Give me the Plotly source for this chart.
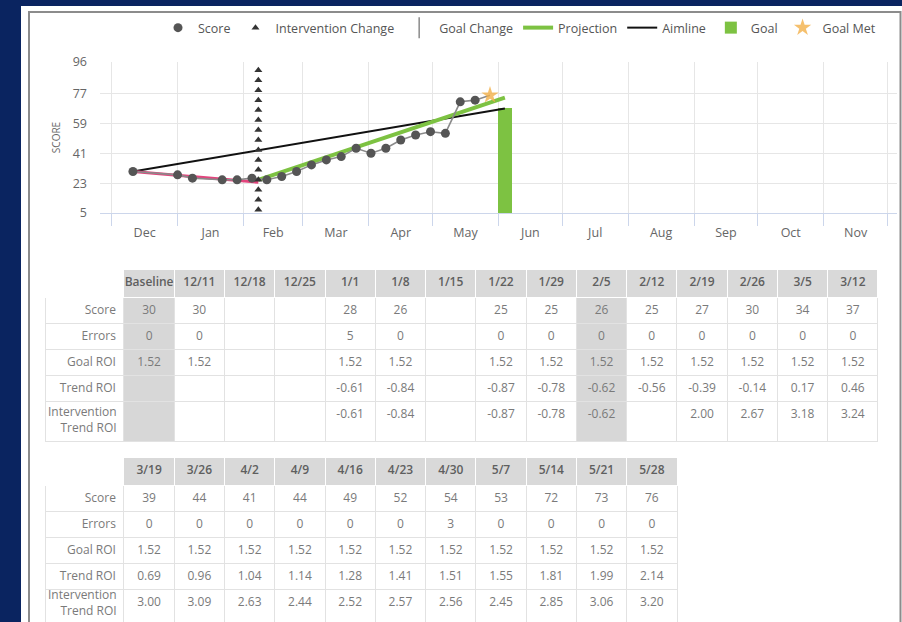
import numpy as np
import pandas as pd
import plotly.graph_objects as go

# ---------------- data ----------------
weeks_1 = ["Baseline", "12/11", "12/18", "12/25", "1/1", "1/8", "1/15", "1/22",
           "1/29", "2/5", "2/12", "2/19", "2/26", "3/5", "3/12"]
score_1 = [30, 30, None, None, 28, 26, None, 25, 25, 26, 25, 27, 30, 34, 37]
errors_1 = [0, 0, None, None, 5, 0, None, 0, 0, 0, 0, 0, 0, 0, 0]
goal_roi_1 = [1.52, 1.52, None, None, 1.52, 1.52, None, 1.52, 1.52, 1.52,
              1.52, 1.52, 1.52, 1.52, 1.52]
trend_roi_1 = [None, None, None, None, -0.61, -0.84, None, -0.87, -0.78, -0.62,
               -0.56, -0.39, -0.14, 0.17, 0.46]
interv_roi_1 = [None, None, None, None, -0.61, -0.84, None, -0.87, -0.78, -0.62,
                None, 2.00, 2.67, 3.18, 3.24]

weeks_2 = ["3/19", "3/26", "4/2", "4/9", "4/16", "4/23", "4/30", "5/7", "5/14",
           "5/21", "5/28"]
score_2 = [39, 44, 41, 44, 49, 52, 54, 53, 72, 73, 76]
errors_2 = [0, 0, 0, 0, 0, 0, 3, 0, 0, 0, 0]
goal_roi_2 = [1.52] * 11
trend_roi_2 = [0.69, 0.96, 1.04, 1.14, 1.28, 1.41, 1.51, 1.55, 1.81, 1.99, 2.14]
interv_roi_2 = [3.00, 3.09, 2.63, 2.44, 2.52, 2.57, 2.56, 2.45, 2.85, 3.06, 3.20]

row_labels = ["Score", "Errors", "Goal ROI", "Trend ROI", "Intervention<br>Trend ROI"]
shaded_weeks = ["Baseline", "2/5"]

# weekly probe dates (12/11 .. 5/28); Baseline shares the 12/11 date
week_dates = pd.date_range("2017-12-11", "2018-05-28", freq="7D")
chart_scores = score_1[1:] + score_2

intervention_date = "2018-02-08"
baseline_trend_dates = ["2017-12-11", "2018-02-08"]
baseline_trend = [30, 23.5]
projection_dates = ["2018-02-08", "2018-06-04"]
projection = [25.0, 74.5]
goal_date = "2018-06-04"
goal_score = 68
goal_met_date = "2018-05-28"

y_ticks = [5, 23, 41, 59, 77, 96]
y_min, y_max = 5, 96

# ---------------- styling ----------------
NAVY = "#0a2460"
FONT = "Open Sans"
GREEN = "#7dc242"
PINK = "#e2457d"
GRID = "#e6e6e6"
AXIS = "#ccd6eb"
W, H = 902, 622


def px(x):
    return x / W


def py(y):
    return 1 - y / H


fig = go.Figure()

# goal bar
fig.add_trace(go.Bar(
    x=[goal_date], y=[goal_score - y_min], base=y_min,
    width=6.5 * 86400000, marker=dict(color=GREEN, line=dict(width=0)),
    name="Goal", legendrank=6, hoverinfo="skip"))

# aimline: baseline score to the goal
fig.add_trace(go.Scatter(
    x=[week_dates[0], goal_date], y=[score_1[0], goal_score], mode="lines",
    line=dict(color="#111111", width=2), name="Aimline", legendrank=5))

# projection for the intervention phase
fig.add_trace(go.Scatter(
    x=projection_dates, y=projection, mode="lines",
    line=dict(color=GREEN, width=4), name="Projection", legendrank=4))

# baseline-phase trend
fig.add_trace(go.Scatter(
    x=baseline_trend_dates, y=baseline_trend, mode="lines",
    line=dict(color=PINK, width=3), showlegend=False))

# score path
pts = [(d, s) for d, s in zip(week_dates, chart_scores) if s is not None]
pt_dates = [d for d, _ in pts]
pt_vals = [s for _, s in pts]
fig.add_trace(go.Scatter(
    x=pt_dates, y=pt_vals, mode="lines",
    line=dict(color="#8a8a8a", width=1.6), showlegend=False))

met = pd.Timestamp(goal_met_date)
fig.add_trace(go.Scatter(
    x=[d for d in pt_dates if d != met],
    y=[s for d, s in pts if d != met],
    mode="markers", marker=dict(color="#555555", size=9),
    name="Score", legendrank=1))

# intervention change marker column
interv_y = np.linspace(7, 91, 15)
fig.add_trace(go.Scatter(
    x=[intervention_date] * len(interv_y), y=interv_y, mode="markers",
    marker=dict(symbol="triangle-up", color="#333333", size=7),
    name="Intervention Change", legendrank=2))

# goal change (legend entry only, no goal changes in range)
fig.add_trace(go.Scatter(
    x=[None], y=[None], mode="markers",
    marker=dict(symbol="line-ns-open", size=15, color="#8a8a8a",
                line=dict(color="#8a8a8a", width=1.5)),
    name="Goal Change", legendrank=3))

# goal met
fig.add_trace(go.Scatter(
    x=[goal_met_date], y=[chart_scores[-1]], mode="markers",
    marker=dict(symbol="star", color="#f2b04a", size=13, opacity=0.8),
    name="Goal Met", legendrank=7))


# ---------------- tables ----------------
# blank two-line spacer keeps the last row tall; its label is set as an annotation
SPACER = ("<span style='font-size:7px'>&nbsp;</span><br>"
          "<span style='font-size:7px'>&nbsp;</span>")
annotations = []


def fmt(vals, dec):
    return ["" if v is None else f"{v:.{dec}f}" for v in vals]


def add_table(weeks, rows, x0, x1, ytop, ybot, header_h, row_h, label_y):
    n = len(weeks)
    labels = row_labels[:-1] + [SPACER]
    cols = [labels] + [[r[i] for r in rows] for i in range(n)]
    fills = ["white"] + ["#d7d7d7" if w in shaded_weeks else "white" for w in weeks]
    hfills = ["white"] + ["#d9d9d9"] * n
    fig.add_trace(go.Table(
        domain=dict(x=[px(x0), px(x1)], y=[py(ybot), py(ytop)]),
        columnwidth=[79] + [50.3] * n,
        header=dict(
            values=[""] + list(weeks),
            fill=dict(color=hfills),
            line=dict(color="white", width=1),
            font=dict(family=FONT, size=12, color="#5f5f5f", weight=600),
            align="center", height=header_h),
        cells=dict(
            values=cols,
            fill=dict(color=fills),
            line=dict(color="#e2e2e2", width=1),
            font=dict(family=FONT, size=12, color="#7a7a7a"),
            align=["right"] + ["center"] * n, height=row_h),
    ))
    annotations.append(dict(
        text=row_labels[-1], xref="paper", yref="paper",
        x=px(x0 + 74), y=py(label_y), xanchor="right", yanchor="middle",
        align="right", showarrow=False,
        font=dict(family=FONT, size=12, color="#7a7a7a")))


rows_1 = [fmt(score_1, 0), fmt(errors_1, 0), fmt(goal_roi_1, 2),
          fmt(trend_roi_1, 2), fmt(interv_roi_1, 2)]
rows_2 = [fmt(score_2, 0), fmt(errors_2, 0), fmt(goal_roi_2, 2),
          fmt(trend_roi_2, 2), fmt(interv_roi_2, 2)]
add_table(weeks_1, rows_1, 45, 878, 269, 446, 28, 26, 419.5)
add_table(weeks_2, rows_2, 45, 677, 457, 622, 28, 26, 602)

# ---------------- layout ----------------
fig.update_layout(
    width=W, height=H,
    margin=dict(l=0, r=0, t=0, b=0),
    paper_bgcolor=NAVY, plot_bgcolor="white",
    font=dict(family=FONT, color="#666666"),
    showlegend=True,
    legend=dict(orientation="h", x=px(158), xanchor="left", y=py(28),
                yanchor="middle", bgcolor="rgba(0,0,0,0)",
                font=dict(family=FONT, size=12.5, color="#555555")),
    annotations=annotations,
    shapes=[
        dict(type="rect", xref="paper", yref="paper", x0=px(21), x1=1.01,
             y0=-0.01, y1=py(6), fillcolor="white", line=dict(width=0),
             layer="below"),
        dict(type="rect", xref="paper", yref="paper", x0=px(29), x1=px(900.5),
             y0=-0.05, y1=py(12), fillcolor="rgba(0,0,0,0)",
             line=dict(color="#8c8c8c", width=2), layer="below"),
    ],
    xaxis=dict(
        domain=[px(100), px(897)], type="date",
        range=["2017-11-25 12:00", "2018-12-05 12:00"],
        tick0="2017-12-01", dtick="M1", tickformat="%b",
        ticklabelmode="period", ticks="outside", ticklen=12,
        tickcolor=AXIS, showline=True, linecolor=AXIS, linewidth=1,
        showgrid=True, gridcolor=GRID, zeroline=False, automargin=False,
        ticklabelstandoff=-4,
        tickfont=dict(family=FONT, size=12.5, color="#666666"),
        fixedrange=True),
    yaxis=dict(
        domain=[py(213), py(62)], range=[y_min, y_max], tickvals=y_ticks,
        showgrid=True, gridcolor=GRID, zeroline=False, showline=False,
        ticks="", ticklabelstandoff=12, automargin=False,
        tickfont=dict(family=FONT, size=12.5, color="#666666"),
        title=dict(text="SCORE", font=dict(family=FONT, size=10, color="#666666"),
                   standoff=10),
        fixedrange=True),
    bargap=0,
)

fig.write_html("out.html")
